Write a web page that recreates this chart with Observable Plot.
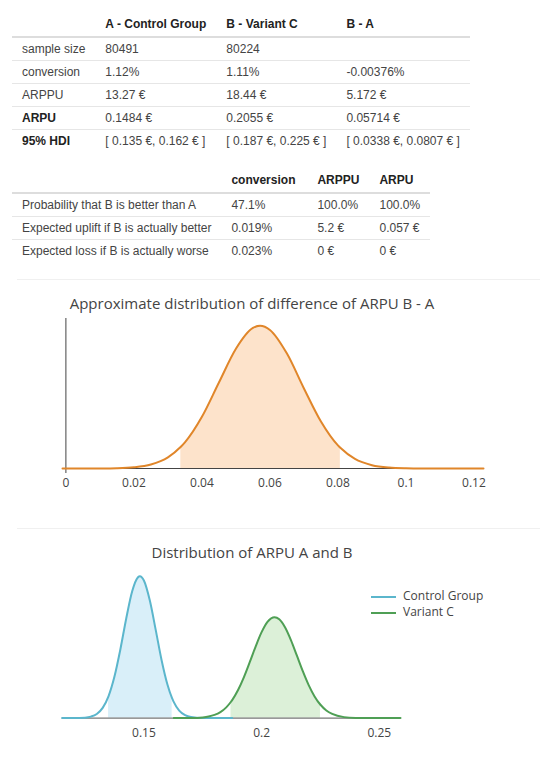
<!DOCTYPE html>
<html>
<head>
<meta charset="utf-8">
<script src="https://cdn.jsdelivr.net/npm/d3@7"></script>
<script src="https://cdn.jsdelivr.net/npm/@observablehq/plot@0.6"></script>
<style>
  body { margin: 0; width: 540px; height: 764px; position: relative; background: #fff; overflow: hidden; }
  table.df { position: absolute; left: 12px; border-collapse: collapse; table-layout: fixed;
    font-family: "Liberation Sans", Arial, sans-serif; font-size: 12px; color: #444; }
  table.df th, table.df td { padding: 0 10px; text-align: left; white-space: nowrap; height: 22px; }
  table.df thead th { height: 24px; color: #222; font-weight: bold; border-bottom: 2px solid #ddd; }
  table.df tbody tr + tr td, table.df tbody tr + tr th { border-top: 1px solid #e6e6e6; }
  table.df tbody th { font-weight: normal; color: #444; }
  table.df tbody th.strong { font-weight: bold; color: #222; }
  .divider { position: absolute; left: 17px; right: 0; height: 1px; background: #f0f0f0; }
  .title { position: absolute; left: 0; width: 504px; text-align: center;
    font-family: "Open Sans", sans-serif; color: #444; font-size: 15px; }
  .chart { position: absolute; left: 0; }
  .legend { position: absolute; left: 371px; font-family: "Open Sans", sans-serif; font-size: 12px; color: #444; }
  .legend div { height: 16px; line-height: 16px; white-space: nowrap; }
  .legend span { display: inline-block; width: 25px; height: 2px; vertical-align: middle; margin-right: 7px; }
</style>
</head>
<body>
<table class="df" id="summary" style="top:12px"></table>
<table class="df" id="decision" style="top:168px"></table>
<div class="divider" style="top:279px"></div>
<div class="title" style="top:293px">Approximate distribution of difference of ARPU B - A</div>
<div class="chart" id="diffChart" style="top:290px"></div>
<div class="divider" style="top:528px"></div>
<div class="title" style="top:542px">Distribution of ARPU A and B</div>
<div class="chart" id="arpuChart" style="top:540px"></div>
<div class="legend" id="legend" style="top:588px"></div>
<script>
// summary table
const summaryCols = ["A - Control Group", "B - Variant C", "B - A"];
const summaryLabels = ["sample size", "conversion", "ARPPU", "ARPU", "95% HDI"];
const summaryBold = [false, false, false, true, true];
const controlValues = ["80491", "1.12%", "13.27 €", "0.1484 €", "[ 0.135 €, 0.162 € ]"];
const variantValues = ["80224", "1.11%", "18.44 €", "0.2055 €", "[ 0.187 €, 0.225 € ]"];
const diffValues = ["", "-0.00376%", "5.172 €", "0.05714 €", "[ 0.0338 €, 0.0807 € ]"];

// decision table
const decisionCols = ["conversion", "ARPPU", "ARPU"];
const decisionLabels = ["Probability that B is better than A", "Expected uplift if B is actually better", "Expected loss if B is actually worse"];
const probBetter = ["47.1%", "100.0%", "100.0%"];
const upliftBetter = ["0.019%", "5.2 €", "0.057 €"];
const lossWorse = ["0.023%", "0 €", "0 €"];

// difference B - A
const diffX = [-0.001, 0, 0.005, 0.01, 0.015, 0.02, 0.025, 0.03, 0.0338, 0.035, 0.04, 0.045, 0.05, 0.055, 0.0571, 0.06, 0.065, 0.07, 0.075, 0.08, 0.0807, 0.085, 0.09, 0.095, 0.1, 0.105, 0.11, 0.115, 0.1228];
const diffY = [0, 0, 0, 0.015, 0.07, 0.28, 0.93, 2.60, 5.06, 6.09, 12.05, 20.05, 27.94, 32.80, 33.3, 32.33, 26.81, 18.68, 10.96, 5.39, 4.83, 2.23, 0.78, 0.23, 0.06, 0.01, 0, 0, 0];
const diffHdi = [0.0338, 0.0807];
const diffTicks = [0, 0.02, 0.04, 0.06, 0.08, 0.1, 0.12];

// ARPU A and B
const controlX = [0.1153, 0.12, 0.125, 0.1275, 0.13, 0.1325, 0.135, 0.1375, 0.14, 0.1425, 0.145, 0.1475, 0.1483, 0.15, 0.1525, 0.155, 0.1575, 0.16, 0.162, 0.1625, 0.165, 0.1675, 0.17, 0.175, 0.18, 0.1875];
const controlY = [0, 0.01, 0.19, 0.61, 1.70, 4.18, 8.99, 16.96, 28.02, 40.65, 51.65, 57.49, 57.9, 56.16, 48.06, 36.10, 23.74, 13.70, 8.02, 6.92, 3.07, 1.19, 0.41, 0.03, 0, 0];
const controlHdi = [0.135, 0.162];
const variantX = [0.1627, 0.165, 0.17, 0.175, 0.1775, 0.18, 0.1825, 0.185, 0.187, 0.1875, 0.19, 0.1925, 0.195, 0.1975, 0.2, 0.2025, 0.2055, 0.2075, 0.21, 0.2125, 0.215, 0.2175, 0.22, 0.2225, 0.225, 0.2275, 0.23, 0.235, 0.24, 0.245, 0.25, 0.259];
const variantY = [0, 0.007, 0.05, 0.29, 0.63, 1.29, 2.46, 4.39, 6.66, 7.33, 11.45, 16.75, 22.91, 29.29, 35.06, 39.27, 41.2, 40.33, 36.99, 31.74, 25.47, 19.14, 13.46, 8.85, 5.44, 3.13, 1.69, 0.40, 0.07, 0.01, 0, 0];
const variantHdi = [0.187, 0.225];
const arpuTicks = [0.15, 0.2, 0.25];
const seriesNames = ["Control Group", "Variant C"];
const lineColors = ["#5bb6cc", "#4f9f55"];
const fillColors = ["#d9eff9", "#dcf0d8"];

function buildTable(el, cols, labels, rows, bold, widths) {
  const colgroup = widths.map(w => `<col style="width:${w}px">`).join("");
  const head = `<thead><tr><th></th>${cols.map(c => `<th>${c}</th>`).join("")}</tr></thead>`;
  const body = labels.map((lab, i) =>
    `<tr><th class="${bold[i] ? "strong" : ""}">${lab}</th>${rows[i].map(v => `<td>${v}</td>`).join("")}</tr>`
  ).join("");
  el.innerHTML = `<colgroup>${colgroup}</colgroup>${head}<tbody>${body}</tbody>`;
}

buildTable(document.getElementById("summary"), summaryCols, summaryLabels,
  summaryLabels.map((_, i) => [controlValues[i], variantValues[i], diffValues[i]]),
  summaryBold, [80, 121, 120, 132]);

buildTable(document.getElementById("decision"), decisionCols, decisionLabels,
  [probBetter, upliftBetter, lossWorse], [false, false, false], [205, 86, 60, 59]);

const toPoints = (xs, ys) => xs.map((x, i) => ({x, y: ys[i]}));
const inside = (pts, [lo, hi]) => pts.filter(d => d.x >= lo && d.x <= hi);

const diffPts = toPoints(diffX, diffY);
const controlPts = toPoints(controlX, controlY);
const variantPts = toPoints(variantX, variantY);

const axisStyle = {fontFamily: "Open Sans, sans-serif", fontSize: "12px", color: "#444", background: "transparent"};

const diffChart = Plot.plot({
  width: 540,
  height: 208,
  marginLeft: 62,
  marginRight: 57,
  marginTop: 28,
  marginBottom: 30,
  style: axisStyle,
  x: {domain: [-0.001, 0.1228], ticks: diffTicks, tickFormat: d => `${d}`, tickSize: 0, tickPadding: 10, label: null},
  y: {domain: [0, 35], axis: null},
  marks: [
    Plot.areaY(inside(diffPts, diffHdi), {x: "x", y: "y", fill: "#fde3cb", curve: "monotone-x"}),
    Plot.ruleY([0], {stroke: "#444", strokeWidth: 1}),
    Plot.ruleX([0], {stroke: "#444", strokeWidth: 1, insetBottom: -5}),
    Plot.lineY(diffPts, {x: "x", y: "y", stroke: "#e0862a", strokeWidth: 2, curve: "monotone-x"})
  ]
});
document.getElementById("diffChart").appendChild(diffChart);

const arpuChart = Plot.plot({
  width: 540,
  height: 208,
  marginLeft: 61.7,
  marginRight: 140,
  marginTop: 28.6,
  marginBottom: 30.4,
  style: axisStyle,
  x: {domain: [0.1153, 0.259], ticks: arpuTicks, tickFormat: d => `${d}`, tickSize: 0, tickPadding: 10, label: null},
  y: {domain: [0, 60.8], axis: null},
  marks: [
    Plot.areaY(inside(controlPts, controlHdi), {x: "x", y: "y", fill: fillColors[0], curve: "monotone-x"}),
    Plot.areaY(inside(variantPts, variantHdi), {x: "x", y: "y", fill: fillColors[1], curve: "monotone-x"}),
    Plot.ruleY([0], {stroke: "#555", strokeWidth: 1}),
    Plot.lineY(controlPts, {x: "x", y: "y", stroke: lineColors[0], strokeWidth: 2, curve: "monotone-x"}),
    Plot.lineY(variantPts, {x: "x", y: "y", stroke: lineColors[1], strokeWidth: 2, curve: "monotone-x"})
  ]
});
document.getElementById("arpuChart").appendChild(arpuChart);

document.getElementById("legend").innerHTML = seriesNames
  .map((name, i) => `<div><span style="background:${lineColors[i]}"></span>${name}</div>`)
  .join("");
</script>
</body>
</html>
